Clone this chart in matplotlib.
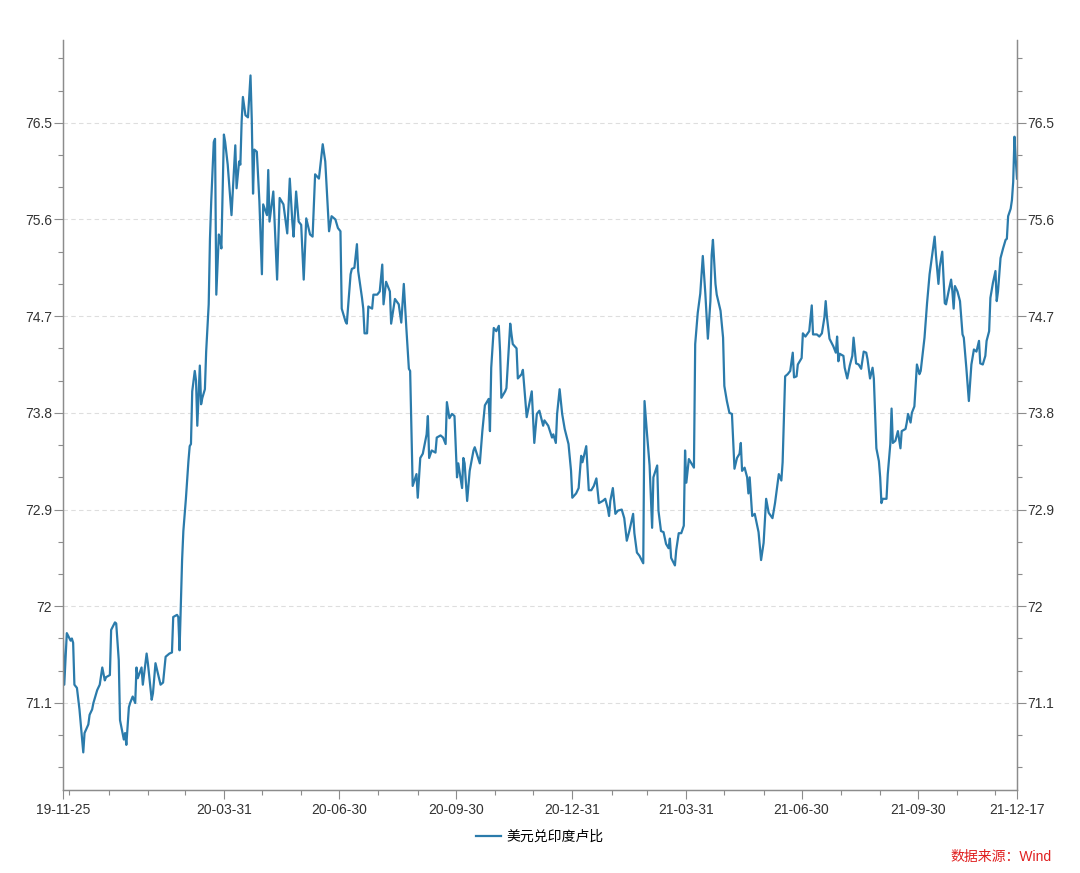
import matplotlib
matplotlib.use("Agg")
import matplotlib.pyplot as plt
import matplotlib.dates as mdates
from matplotlib.ticker import FixedLocator, FuncFormatter
import numpy as np
import pandas as pd

plt.rcParams["font.family"] = ["Liberation Sans", "Noto Sans CJK SC"]

# USD/INR; dates as days since start_date
start_date = "2019-11-25"
end_date = "2021-12-17"
day_offset = [
    0, 1, 3, 6, 7, 8, 9, 11, 13, 16, 17, 20, 21, 23, 24, 27, 29, 31, 33, 34,
    37, 38, 41, 42, 44, 45, 48, 49, 50, 52, 53, 55, 57, 58, 59, 62, 63, 66, 67, 70,
    71, 73, 77, 79, 81, 84, 86, 87, 90, 91, 92, 94, 95, 97, 99, 100, 101, 102, 104, 105,
    106, 108, 109, 110, 112, 113, 115, 116, 117, 119, 120, 121, 123, 124, 125, 127, 128, 130, 133, 136,
    137, 139, 140, 141, 142, 144, 146, 148, 149, 150, 151, 153, 155, 157, 158, 161, 162, 163, 165, 166,
    169, 171, 174, 177, 179, 181, 182, 184, 186, 188, 190, 192, 195, 197, 199, 202, 205, 207, 210, 212,
    215, 217, 219, 220, 223, 224, 227, 228, 230, 232, 233, 236, 237, 238, 240, 241, 244, 245, 248, 250,
    252, 253, 255, 258, 259, 262, 265, 267, 269, 271, 273, 274, 276, 279, 280, 282, 284, 287, 288, 289,
    291, 294, 295, 298, 300, 302, 303, 305, 307, 309, 311, 312, 315, 316, 317, 319, 321, 324, 325, 329,
    331, 333, 336, 337, 338, 340, 342, 344, 345, 346, 349, 350, 353, 354, 355, 358, 359, 362, 363, 366,
    368, 370, 372, 374, 376, 379, 380, 383, 386, 387, 389, 390, 392, 394, 396, 399, 401, 402, 405, 407,
    409, 410, 413, 415, 417, 419, 421, 423, 426, 428, 430, 431, 432, 434, 436, 438, 441, 443, 445, 447,
    450, 451, 453, 455, 458, 459, 461, 463, 465, 466, 469, 470, 472, 474, 476, 478, 479, 480, 483, 484,
    486, 488, 490, 491, 492, 494, 496, 498, 499, 501, 503, 505, 507, 509, 511, 512, 513, 515, 516, 519,
    521, 522, 524, 526, 528, 530, 532, 534, 535, 536, 538, 540, 541, 542, 544, 546, 549, 551, 553, 555,
    557, 560, 562, 565, 567, 568, 570, 572, 574, 576, 577, 579, 580, 583, 584, 586, 589, 591, 592, 595,
    597, 599, 601, 602, 603, 605, 608, 610, 611, 612, 613, 616, 617, 619, 621, 623, 624, 626, 628, 630,
    632, 634, 635, 637, 639, 640, 642, 644, 645, 646, 647, 650, 651, 653, 654, 655, 657, 659, 661, 662,
    665, 666, 667, 669, 670, 672, 674, 676, 677, 680, 682, 684, 688, 689, 691, 692, 694, 696, 697, 699,
    701, 702, 703, 704, 706, 708, 710, 711, 713, 715, 717, 719, 721, 723, 724, 726, 728, 729, 731, 732,
    734, 736, 737, 738, 740, 742, 744, 745, 746, 748, 749, 750, 751, 752, 753,
]
usd_inr = [
    71.68, 71.27, 71.75, 71.68, 71.70, 71.66, 71.27, 71.24, 71.04, 70.64, 70.82, 70.90, 70.99, 71.04, 71.10, 71.22, 71.27, 71.43, 71.31, 71.34,
    71.36, 71.78, 71.85, 71.84, 71.50, 70.94, 70.76, 70.82, 70.71, 71.06, 71.10, 71.16, 71.10, 71.43, 71.33, 71.43, 71.27, 71.56, 71.47, 71.13,
    71.19, 71.47, 71.27, 71.29, 71.53, 71.56, 71.57, 71.90, 71.92, 71.90, 71.59, 72.43, 72.70, 73.00, 73.35, 73.49, 73.51, 74.00, 74.19, 74.10,
    73.68, 74.24, 73.88, 73.94, 74.02, 74.37, 74.81, 75.42, 75.77, 76.32, 76.35, 74.90, 75.46, 75.42, 75.33, 76.39, 76.32, 76.11, 75.64, 76.29,
    75.89, 76.14, 76.11, 76.51, 76.74, 76.57, 76.55, 76.94, 76.53, 75.84, 76.25, 76.23, 75.77, 75.09, 75.74, 75.64, 76.06, 75.58, 75.77, 75.86,
    75.04, 75.80, 75.74, 75.47, 75.98, 75.58, 75.44, 75.86, 75.58, 75.55, 75.04, 75.61, 75.46, 75.44, 76.02, 75.98, 76.30, 76.14, 75.49, 75.63,
    75.60, 75.52, 75.49, 74.77, 74.65, 74.63, 75.09, 75.14, 75.15, 75.37, 75.12, 74.87, 74.77, 74.54, 74.54, 74.79, 74.77, 74.90, 74.90, 74.93,
    75.18, 74.81, 75.02, 74.93, 74.63, 74.86, 74.81, 74.64, 75.00, 74.59, 74.21, 74.19, 73.12, 73.23, 73.01, 73.38, 73.42, 73.60, 73.77, 73.38,
    73.45, 73.43, 73.57, 73.59, 73.57, 73.51, 73.90, 73.75, 73.79, 73.77, 73.20, 73.33, 73.10, 73.38, 73.33, 72.98, 73.26, 73.45, 73.48, 73.33,
    73.63, 73.87, 73.93, 73.63, 74.22, 74.59, 74.56, 74.61, 74.37, 73.94, 74.00, 74.03, 74.63, 74.53, 74.44, 74.40, 74.12, 74.16, 74.20, 73.76,
    73.88, 74.00, 73.52, 73.79, 73.82, 73.68, 73.73, 73.68, 73.57, 73.60, 73.52, 73.79, 74.02, 73.79, 73.65, 73.51, 73.26, 73.01, 73.05, 73.10,
    73.40, 73.34, 73.49, 73.08, 73.08, 73.12, 73.19, 72.96, 72.98, 73.00, 72.91, 72.84, 72.98, 73.10, 72.86, 72.89, 72.90, 72.82, 72.61, 72.70,
    72.86, 72.68, 72.50, 72.47, 72.40, 73.91, 73.60, 73.31, 72.73, 73.20, 73.31, 72.89, 72.70, 72.69, 72.58, 72.54, 72.63, 72.45, 72.38, 72.52,
    72.68, 72.68, 72.75, 73.45, 73.15, 73.37, 73.33, 73.29, 74.44, 74.73, 74.91, 75.26, 74.91, 74.49, 74.84, 75.27, 75.41, 75.00, 74.90, 74.75,
    74.50, 74.05, 73.91, 73.80, 73.79, 73.28, 73.38, 73.42, 73.52, 73.26, 73.29, 73.20, 73.05, 73.20, 72.84, 72.86, 72.69, 72.43, 72.59, 73.00,
    72.87, 72.82, 72.96, 73.23, 73.17, 73.34, 74.14, 74.16, 74.19, 74.36, 74.13, 74.14, 74.25, 74.31, 74.54, 74.51, 74.56, 74.80, 74.53, 74.53,
    74.51, 74.54, 74.69, 74.84, 74.69, 74.49, 74.42, 74.36, 74.51, 74.28, 74.35, 74.33, 74.22, 74.12, 74.24, 74.33, 74.50, 74.26, 74.25, 74.21,
    74.37, 74.36, 74.30, 74.12, 74.22, 74.12, 73.47, 73.35, 73.20, 72.96, 73.00, 73.00, 73.23, 73.51, 73.84, 73.52, 73.54, 73.63, 73.47, 73.63,
    73.65, 73.71, 73.79, 73.71, 73.80, 73.86, 74.25, 74.16, 74.19, 74.50, 74.82, 75.09, 75.44, 75.27, 75.00, 75.16, 75.30, 74.82, 74.81, 74.93,
    75.04, 74.93, 74.77, 74.98, 74.93, 74.84, 74.53, 74.50, 74.22, 73.91, 74.25, 74.39, 74.37, 74.47, 74.26, 74.25, 74.33, 74.47, 74.56, 74.87,
    75.01, 75.12, 74.84, 74.93, 75.24, 75.33, 75.41, 75.42, 75.63, 75.70, 75.78, 75.95, 76.37, 76.16, 75.98,
]
series_name = "美元兑印度卢比"
source_text = "数据来源：Wind"
y_ticks = [71.1, 72, 72.9, 73.8, 74.7, 75.6, 76.5]
x_label_dates = ["2019-11-25", "2020-03-31", "2020-06-30", "2020-09-30",
                 "2020-12-31", "2021-03-31", "2021-06-30", "2021-09-30", "2021-12-17"]

line_color = "#2b7bab"
axis_color = "#8c8c8c"
text_color = "#333333"

dates = pd.Timestamp(start_date) + pd.to_timedelta(day_offset, unit="D")

fig = plt.figure(figsize=(10.8, 8.73), dpi=100)
ax = fig.add_axes([63 / 1080, 1 - 790 / 873, 954 / 1080, 750 / 873])
ax.plot(dates, usd_inr, color=line_color, linewidth=1.6, label=series_name)

ax.set_xlim(pd.Timestamp(start_date), pd.Timestamp(end_date))
ax.set_ylim(70.29, 77.27)

# x axis: labelled quarter ends, unlabelled month ends
month_ends = pd.date_range("2019-12-01", "2021-12-01", freq="MS") - pd.Timedelta(days=1)
ax.xaxis.set_major_locator(FixedLocator(mdates.date2num(pd.to_datetime(x_label_dates))))
ax.xaxis.set_major_formatter(mdates.DateFormatter("%y-%m-%d"))
ax.xaxis.set_minor_locator(FixedLocator(mdates.date2num(month_ends)))

ax2 = ax.twinx()
ax2.set_ylim(ax.get_ylim())
for a in (ax, ax2):
    a.yaxis.set_major_locator(FixedLocator(y_ticks))
    a.yaxis.set_minor_locator(FixedLocator(np.arange(70.5, 77.2, 0.3)))
    a.yaxis.set_major_formatter(FuncFormatter(lambda v, p: "%g" % round(v, 1)))
    a.tick_params(axis="y", which="major", length=6.5, width=0.8, color=axis_color,
                  labelsize=10, labelcolor=text_color, pad=1.2)
    a.tick_params(axis="y", which="minor", length=3.8, width=0.8, color=axis_color)
    for name, spine in a.spines.items():
        spine.set_color(axis_color)
        spine.set_linewidth(0.9)
        if name == "top":
            spine.set_visible(False)

ax.tick_params(axis="x", which="major", length=6.5, width=0.8, color=axis_color,
               labelsize=10, labelcolor=text_color, pad=2.5)
ax.tick_params(axis="x", which="minor", length=3.8, width=0.8, color=axis_color)

ax.yaxis.grid(True, which="major", linestyle=(0, (4, 3)), color="#dedede", linewidth=0.8)
ax.xaxis.grid(False)
ax.set_axisbelow(True)

fig.legend(loc="center", bbox_to_anchor=(540 / 1080, 1 - 837 / 873), frameon=False,
           handlelength=1.8, handletextpad=0.4,
           prop={"family": ["Liberation Sans", "Noto Sans CJK SC"], "size": 10})
fig.text(1052 / 1080, 1 - 857 / 873, source_text, color="#e02020", fontsize=10,
         ha="right", va="center", family=["Liberation Sans", "Noto Sans CJK SC"])

fig.savefig("out.png", dpi=100)
